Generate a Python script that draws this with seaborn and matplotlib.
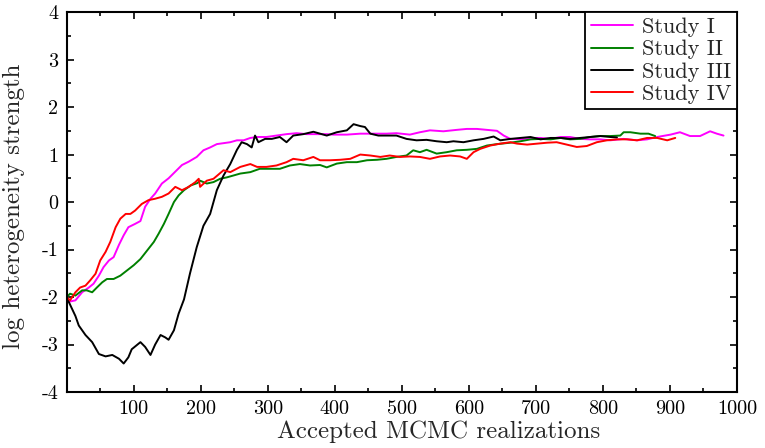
import numpy as np
import pandas as pd
import matplotlib
matplotlib.use("Agg")
import matplotlib.pyplot as plt
import seaborn as sns
from matplotlib.ticker import MultipleLocator

# ---------------- data ----------------
x_study1 = [0, 3, 13, 23, 33, 40, 48, 55, 63, 70, 78, 85, 92, 102, 110, 117, 125, 132, 142, 152,
            162, 172, 182, 194, 204, 214, 224, 234, 244, 254, 264, 274, 284, 298, 313, 328, 343,
            358, 373, 388, 398, 418, 438, 458, 477, 492, 512, 527, 542, 562, 582, 597, 612, 627,
            642, 652, 662, 677, 692, 707, 722, 737, 751, 766, 781, 796, 811, 831, 851, 866, 881,
            901, 915, 930, 945, 960, 970, 980]
y_study1 = [-2.0, -2.1, -2.07, -1.9, -1.8, -1.72, -1.55, -1.37, -1.23, -1.16, -0.9, -0.7, -0.53,
            -0.46, -0.4, -0.1, 0.07, 0.18, 0.39, 0.5, 0.64, 0.78, 0.85, 0.95, 1.09, 1.15, 1.22,
            1.24, 1.26, 1.3, 1.3, 1.35, 1.37, 1.37, 1.4, 1.43, 1.45, 1.43, 1.43, 1.43, 1.42, 1.42,
            1.44, 1.44, 1.44, 1.45, 1.42, 1.47, 1.51, 1.49, 1.52, 1.54, 1.54, 1.52, 1.5, 1.4, 1.33,
            1.32, 1.35, 1.35, 1.33, 1.37, 1.37, 1.33, 1.32, 1.32, 1.3, 1.33, 1.3, 1.32, 1.37, 1.42,
            1.47, 1.39, 1.39, 1.49, 1.44, 1.4]

x_study2 = [0, 5, 13, 23, 30, 38, 45, 53, 60, 70, 80, 90, 100, 110, 120, 130, 137, 145, 152, 160,
            167, 175, 185, 195, 199, 209, 219, 229, 239, 249, 259, 274, 288, 303, 318, 333, 348,
            363, 378, 388, 403, 418, 433, 448, 463, 477, 492, 507, 517, 527, 537, 552, 567, 582,
            597, 612, 627, 642, 662, 677, 692, 707, 722, 737, 751, 766, 781, 796, 811, 826, 831,
            841, 856, 868, 878]
y_study2 = [-2.0, -1.93, -1.97, -1.86, -1.86, -1.9, -1.8, -1.69, -1.62, -1.62, -1.55, -1.44,
            -1.33, -1.2, -1.02, -0.84, -0.67, -0.46, -0.25, 0.0, 0.14, 0.25, 0.35, 0.4, 0.45,
            0.39, 0.42, 0.49, 0.52, 0.56, 0.6, 0.63, 0.7, 0.7, 0.7, 0.77, 0.8, 0.77, 0.78, 0.73,
            0.81, 0.84, 0.84, 0.88, 0.89, 0.91, 0.95, 0.98, 1.09, 1.05, 1.1, 1.02, 1.05, 1.09,
            1.1, 1.12, 1.19, 1.22, 1.25, 1.28, 1.32, 1.33, 1.32, 1.35, 1.32, 1.33, 1.37, 1.39,
            1.39, 1.4, 1.47, 1.47, 1.44, 1.44, 1.39]

x_study3 = [0, 3, 13, 18, 28, 38, 48, 58, 68, 78, 85, 92, 97, 110, 117, 125, 132, 140, 147, 152,
            160, 167, 175, 184, 194, 204, 214, 224, 234, 244, 254, 261, 269, 276, 281, 286, 296,
            306, 318, 328, 338, 353, 368, 378, 388, 403, 418, 428, 438, 445, 453, 465, 477, 492,
            507, 522, 537, 552, 567, 577, 592, 607, 622, 637, 647, 662, 677, 692, 707, 722, 737,
            751, 766, 781, 796, 811, 821]
y_study3 = [-2.0, -2.1, -2.4, -2.6, -2.8, -2.95, -3.2, -3.25, -3.22, -3.3, -3.4, -3.27, -3.1,
            -2.95, -3.05, -3.22, -3.0, -2.8, -2.85, -2.9, -2.7, -2.35, -2.05, -1.5, -0.95,
            -0.5, -0.25, 0.25, 0.56, 0.8, 1.1, 1.26, 1.22, 1.15, 1.4, 1.26, 1.33, 1.33, 1.37,
            1.26, 1.4, 1.43, 1.48, 1.44, 1.4, 1.47, 1.51, 1.64, 1.6, 1.58, 1.44, 1.4, 1.4, 1.4,
            1.33, 1.3, 1.31, 1.28, 1.26, 1.28, 1.26, 1.3, 1.33, 1.38, 1.3, 1.33, 1.35, 1.37,
            1.32, 1.35, 1.35, 1.33, 1.35, 1.37, 1.39, 1.37, 1.36]

x_study4 = [0, 5, 13, 20, 28, 35, 43, 50, 58, 65, 73, 80, 88, 95, 102, 112, 122, 132, 142, 152,
            162, 172, 182, 192, 197, 199, 209, 219, 234, 244, 259, 274, 284, 298, 313, 328, 338,
            353, 368, 378, 393, 408, 423, 438, 453, 468, 482, 497, 512, 527, 542, 557, 572, 587,
            597, 607, 617, 632, 647, 662, 672, 687, 702, 717, 731, 746, 761, 776, 791, 806, 821,
            836, 851, 866, 881, 896, 908]
y_study4 = [-2.0, -2.07, -1.9, -1.8, -1.76, -1.65, -1.51, -1.23, -1.05, -0.84, -0.53, -0.35,
            -0.25, -0.25, -0.18, -0.04, 0.04, 0.07, 0.11, 0.18, 0.32, 0.25, 0.32, 0.42, 0.49,
            0.32, 0.45, 0.49, 0.67, 0.63, 0.74, 0.8, 0.74, 0.74, 0.77, 0.84, 0.91, 0.88, 0.95,
            0.88, 0.88, 0.89, 0.91, 1.0, 0.98, 0.95, 0.98, 0.95, 0.96, 0.95, 0.91, 0.96, 0.98,
            0.96, 0.91, 1.05, 1.12, 1.19, 1.23, 1.26, 1.23, 1.21, 1.23, 1.25, 1.26, 1.21, 1.16,
            1.18, 1.26, 1.3, 1.32, 1.32, 1.3, 1.35, 1.35, 1.3, 1.35]

series_names = ["Study I", "Study II", "Study III", "Study IV"]
series_colors = ["#ff00ff", "#008000", "#000000", "#ff0000"]
x_ticks = [100, 200, 300, 400, 500, 600, 700, 800, 900, 1000]
y_ticks = [-4, -3, -2, -1, 0, 1, 2, 3, 4]

# ---------------- style ----------------
sns.set_style("ticks")
plt.rcParams["font.family"] = ["cmr10", "DejaVu Serif"]
plt.rcParams["axes.unicode_minus"] = False
plt.rcParams["mathtext.fontset"] = "cm"

fig = plt.figure(figsize=(7.65, 4.48), dpi=100)
ax = fig.add_axes([0.0872, 0.125, 0.8761, 0.848])

xs = [x_study1, x_study2, x_study3, x_study4]
ys = [y_study1, y_study2, y_study3, y_study4]
for xv, yv, name, col in zip(xs, ys, series_names, series_colors):
    df = pd.DataFrame({"x": xv, "y": yv})
    sns.lineplot(data=df, x="x", y="y", ax=ax, color=col, label=name,
                 sort=False, linewidth=1.4, estimator=None)

ax.set_xlim(0, 1000)
ax.set_ylim(-4, 4)
ax.set_xticks(x_ticks)
ax.set_xticklabels([str(v) for v in x_ticks])
ax.set_yticks(y_ticks)
ax.set_yticklabels([str(v) for v in y_ticks])
ax.xaxis.set_minor_locator(MultipleLocator(50))
ax.yaxis.set_minor_locator(MultipleLocator(0.5))
ax.tick_params(which="both", direction="in", top=True, right=True, width=1.2,
               labelsize=14.5, colors="black")
ax.tick_params(which="major", length=5)
ax.tick_params(which="minor", length=3)
ax.tick_params(axis="x", which="major", pad=6)
ax.tick_params(axis="y", which="major", pad=6)
for s in ax.spines.values():
    s.set_linewidth(1.5)
    s.set_color("black")

ax.set_xlabel("Accepted MCMC realizations", fontsize=18)
ax.set_ylabel("log heterogeneity strength", fontsize=18)
ax.xaxis.set_label_coords(0.555, -0.075)
ax.yaxis.set_label_coords(-0.062, 0.49)

leg = ax.legend(loc="upper right", borderaxespad=0.0, fancybox=False, frameon=True,
                edgecolor="black", fontsize=16, handlelength=1.9, handletextpad=0.4,
                labelspacing=0.12, borderpad=0.25)
leg.get_frame().set_linewidth(1.3)
leg.get_frame().set_alpha(1)

fig.savefig("out.png", dpi=100)
